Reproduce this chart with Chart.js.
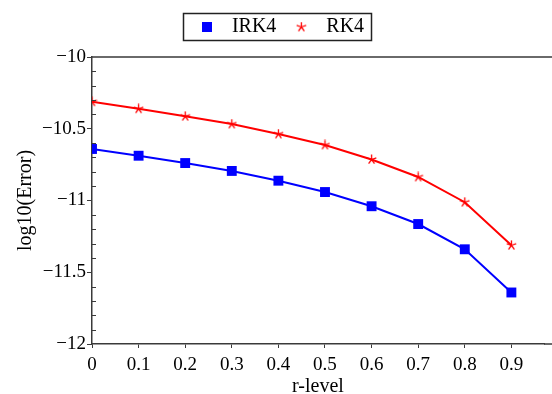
<!DOCTYPE html>
<html>
<head>
<meta charset="utf-8">
<script src="https://cdn.jsdelivr.net/npm/chart.js@4.4.1/dist/chart.umd.min.js"></script>
<style>
html,body{margin:0;padding:0;overflow:hidden;background:#fff;}
#wrap{width:552px;height:394px;}
</style>
</head>
<body>
<div id="wrap"><canvas id="c" width="552" height="394"></canvas></div>
<script>
const rLevels = [0, 0.1, 0.2, 0.3, 0.4, 0.5, 0.6, 0.7, 0.8, 0.9];
const irk4 = [-10.641, -10.688, -10.739, -10.794, -10.862, -10.941, -11.040, -11.164, -11.340, -11.641];
const rk4  = [-10.312, -10.361, -10.413, -10.467, -10.537, -10.613, -10.714, -10.836, -11.012, -11.312];
const xTicks = [0, 0.1, 0.2, 0.3, 0.4, 0.5, 0.6, 0.7, 0.8, 0.9];
const yTicks = [-12, -11.5, -11, -10.5, -10];
const seriesNames = ['IRK4', 'RK4'];

const FONT = "'Liberation Serif', 'Times New Roman', serif";
const AXIS = '#3a3a3a';

function makeSquare(size, color) {
  const c = document.createElement('canvas');
  c.width = size; c.height = size;
  const g = c.getContext('2d');
  g.fillStyle = color;
  g.fillRect(0, 0, size, size);
  return c;
}
function makeStar(size, color, lw) {
  const c = document.createElement('canvas');
  c.width = size; c.height = size;
  const g = c.getContext('2d');
  const cx = size / 2, cy = size / 2, r = size / 2 - 0.5;
  g.strokeStyle = color; g.lineWidth = lw; g.lineCap = 'butt';
  g.beginPath();
  for (let i = 0; i < 5; i++) {
    const a = -Math.PI / 2 + i * 2 * Math.PI / 5;
    g.moveTo(cx, cy);
    g.lineTo(cx + r * Math.cos(a), cy + r * Math.sin(a));
  }
  g.stroke();
  return c;
}
const starImg = makeStar(11, '#ff0000', 1.3);
const starLegend = makeStar(11, '#ff0000', 1.3);
const sqLegend = makeSquare(10, '#0000ff');

const frame = {
  id: 'frame',
  afterInit(chart) {
    const lg = chart.legend;
    if (lg) {
      const f = lg.fit.bind(lg);
      lg.fit = function () { f(); this.height += 10; };
    }
  },
  afterDraw(chart) {
    const ctx = chart.ctx, a = chart.chartArea;
    ctx.save();
    ctx.strokeStyle = AXIS;
    ctx.lineWidth = 1.5;
    ctx.beginPath();
    ctx.moveTo(a.left, a.top);
    ctx.lineTo(chart.width, a.top);
    ctx.moveTo(a.right, a.bottom);
    ctx.lineTo(chart.width, a.bottom);
    ctx.stroke();
    // minor ticks on y axis
    const ys = chart.scales.y;
    ctx.lineWidth = 1;
    ctx.beginPath();
    for (let k = 0; k <= 20; k++) {
      if (k % 5 === 0) continue;
      const v = -12 + k / 10;
      const py = Math.round(ys.getPixelForValue(v)) + 0.5;
      ctx.moveTo(a.left, py);
      ctx.lineTo(a.left + 4, py);
    }
    ctx.stroke();
    // legend box
    const hb = chart.legend.legendHitBoxes;
    if (hb && hb.length) {
      const l = hb[0].left - 9;
      const r = hb[hb.length - 1].left + hb[hb.length - 1].width + 7;
      const t = hb[0].top - 4;
      const b = hb[0].top + hb[0].height + 3;
      ctx.strokeStyle = '#222';
      ctx.lineWidth = 1.5;
      ctx.strokeRect(Math.round(l) + 0.5, Math.round(t) + 0.5, Math.round(r - l), Math.round(b - t));
    }
    ctx.restore();
  }
};

new Chart(document.getElementById('c'), {
  type: 'line',
  data: {
    datasets: [
      {
        label: seriesNames[0],
        data: rLevels.map((x, i) => ({ x: x, y: irk4[i] })),
        borderColor: '#0000ff',
        backgroundColor: '#0000ff',
        borderWidth: 2,
        pointStyle: 'rect',
        pointRadius: 7,
        pointBorderWidth: 0,
        tension: 0
      },
      {
        label: seriesNames[1],
        data: rLevels.map((x, i) => ({ x: x, y: rk4[i] })),
        borderColor: '#ff0000',
        backgroundColor: '#ff0000',
        borderWidth: 2,
        pointStyle: starImg,
        pointRadius: 6,
        tension: 0
      }
    ]
  },
  options: {
    responsive: false,
    animation: false,
    layout: { padding: { top: 7, left: 4, right: 0, bottom: 0 } },
    plugins: {
      tooltip: { enabled: false },
      legend: {
        position: 'top',
        labels: {
          font: { family: FONT, size: 20 },
          color: '#000',
          usePointStyle: true,
          pointStyleWidth: 30,
          padding: 10,
          generateLabels: () => [
            { text: seriesNames[0], pointStyle: sqLegend, fillStyle: '#0000ff', strokeStyle: '#0000ff', lineWidth: 0, hidden: false, datasetIndex: 0, fontColor: '#000' },
            { text: seriesNames[1], pointStyle: starLegend, fillStyle: '#ff0000', strokeStyle: '#ff0000', lineWidth: 0, hidden: false, datasetIndex: 1, fontColor: '#000' }
          ]
        }
      }
    },
    scales: {
      x: {
        type: 'linear',
        min: 0,
        max: 0.97,
        afterBuildTicks: s => { s.ticks = xTicks.map(v => ({ value: v })); },
        afterFit: s => { s.height = 50; },
        ticks: {
          font: { family: FONT, size: 19 },
          color: '#000',
          padding: 6,
          maxRotation: 0,
          autoSkip: false,
          callback: v => String(v)
        },
        grid: { display: true, drawOnChartArea: false, drawTicks: true, tickLength: 4, color: AXIS, tickWidth: 1 },
        border: { display: true, color: AXIS, width: 1.5 },
        title: { display: true, text: 'r-level', font: { family: FONT, size: 20 }, color: '#000', padding: { top: 0, bottom: -5 } }
      },
      y: {
        type: 'linear',
        min: -12,
        max: -10,
        afterBuildTicks: s => { s.ticks = yTicks.map(v => ({ value: v })); },
        afterFit: s => { s.width = 88; },
        ticks: {
          font: { family: FONT, size: 19 },
          color: '#000',
          padding: 1,
          autoSkip: false,
          callback: v => String(v).replace('-', '\u2212')
        },
        grid: { display: true, drawOnChartArea: false, drawTicks: true, tickLength: 5, color: AXIS, tickWidth: 1 },
        border: { display: true, color: AXIS, width: 1.5 },
        title: { display: true, text: 'log10(Error)', font: { family: FONT, size: 20 }, color: '#000', padding: { top: 10, bottom: 0 } }
      }
    }
  },
  plugins: [frame]
});
</script>
</body>
</html>
